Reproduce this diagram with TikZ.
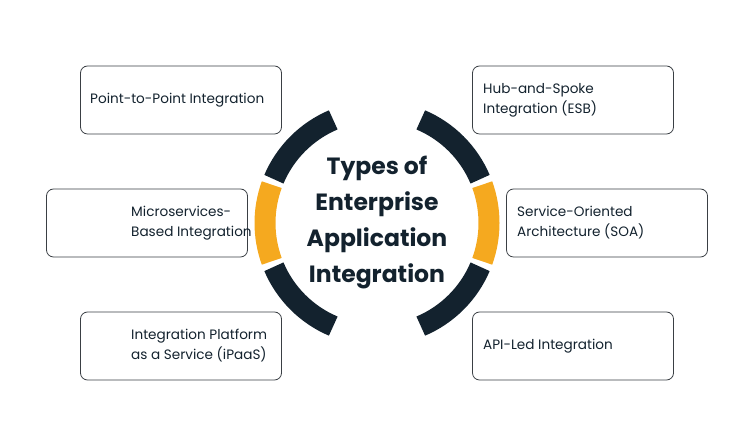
\documentclass[tikz,border=0pt]{standalone}
\usepackage{fontspec}
\setmainfont{Poppins}
\usetikzlibrary{calc}
\definecolor{navy}{HTML}{13222E}
\definecolor{amber}{HTML}{F5A91F}
\definecolor{edge}{HTML}{3A3F44}
\begin{document}
\begin{tikzpicture}[x=1pt,y=1pt]
\tikzset{ box/.style={draw=edge, line width=0.8pt, rounded corners=7pt, minimum width=201pt, minimum height=68pt, inner sep=0pt},
  lbl/.style={anchor=west, align=left, font=\fontsize{13.6}{20}\selectfont, text=navy, inner sep=0pt},
  ring/.style={line width=21pt} }
\useasboundingbox (0,0) rectangle (754,446);

% boxes
\node [box] (PP)  at (181,346) {};
\node [box] (MS)  at (147,223) {};
\node [box] (IP)  at (181,100) {};
\node [box] (HS)  at (573,346) {};
\node [box] (SO)  at (607,223) {};
\node [box] (AL)  at (573,100) {};

\node [lbl] (tPP) at (90,346)  {Point-to-Point Integration};
\node [lbl] (tMS) at (131,223) {Microservices-\\Based Integration};
\node [lbl] (tIP) at (131,100) {Integration Platform\\as a Service (iPaaS)};
\node [lbl] (tHS) at (483,346) {Hub-and-Spoke\\Integration (ESB)};
\node [lbl] (tSO) at (517,223) {Service-Oriented\\Architecture (SOA)};
\node [lbl] (tAL) at (483,100) {API-Led Integration};

% ring
\coordinate (C) at (377,223);
\draw [ring, navy]  ($(C)+(113:112)$) arc (113:157:112);
\draw [ring, amber] ($(C)+(160:112)$) arc (160:200:112);
\draw [ring, navy]  ($(C)+(203:112)$) arc (203:247:112);
\draw [ring, navy]  ($(C)+(67:112)$)  arc (67:23:112);
\draw [ring, amber] ($(C)+(20:112)$)  arc (20:-20:112);
\draw [ring, navy]  ($(C)+(-23:112)$) arc (-23:-67:112);

\node [align=center, font=\fontsize{23.5}{36}\selectfont\bfseries, text=navy] (T) at (C) {Types of\\Enterprise\\Application\\Integration};
\end{tikzpicture}
\end{document}
